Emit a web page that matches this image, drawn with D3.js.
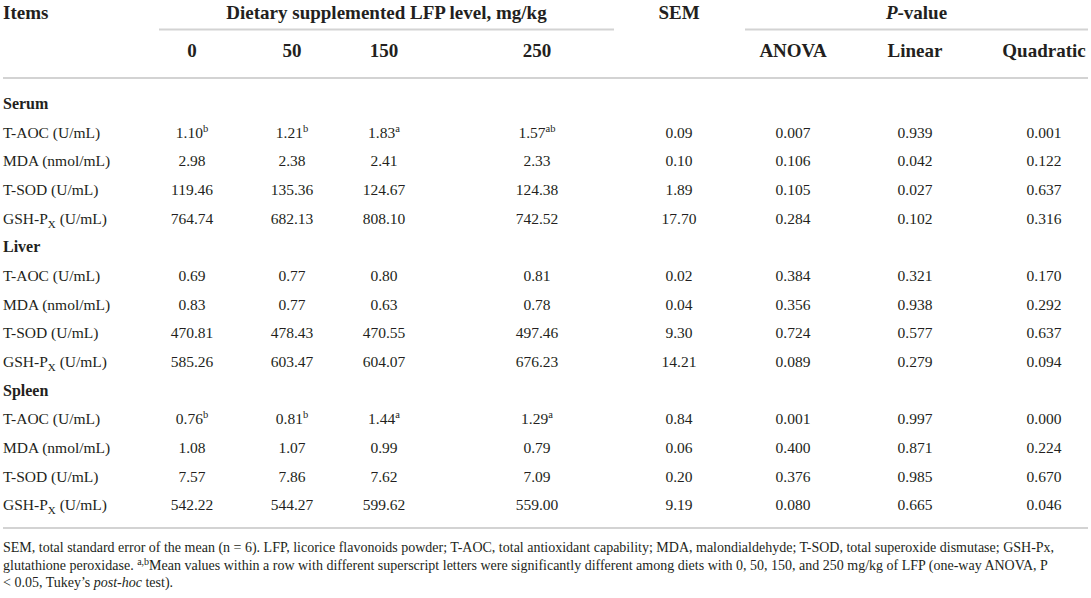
<!DOCTYPE html>
<html>
<head>
<meta charset="utf-8">
<script src="https://d3js.org/d3.v7.min.js"></script>
<style>
  body { margin: 0; padding: 0; background: #fff; }
  text { font-family: "Liberation Serif", "Times New Roman", serif; fill: #231f20; }
  .hd { font-weight: bold; font-size: 19px; }
  .grp { font-weight: bold; font-size: 16px; }
  .cell { font-size: 15.5px; }
  .note { font-size: 14px; }
</style>
</head>
<body>
<script>
// table data
var groups = ["Serum", "Liver", "Spleen"];
var items = ["T-AOC (U/mL)", "MDA (nmol/mL)", "T-SOD (U/mL)", "GSH-PX (U/mL)"];
var levels = ["0", "50", "150", "250"];
var pCols = ["ANOVA", "Linear", "Quadratic"];

var serumMeans = [[1.10, 1.21, 1.83, 1.57], [2.98, 2.38, 2.41, 2.33], [119.46, 135.36, 124.67, 124.38], [764.74, 682.13, 808.10, 742.52]];
var serumLetters = [["b", "b", "a", "ab"], [], [], []];
var serumSEM = [0.09, 0.10, 1.89, 17.70];
var serumP = [[0.007, 0.939, 0.001], [0.106, 0.042, 0.122], [0.105, 0.027, 0.637], [0.284, 0.102, 0.316]];

var liverMeans = [[0.69, 0.77, 0.80, 0.81], [0.83, 0.77, 0.63, 0.78], [470.81, 478.43, 470.55, 497.46], [585.26, 603.47, 604.07, 676.23]];
var liverLetters = [[], [], [], []];
var liverSEM = [0.02, 0.04, 9.30, 14.21];
var liverP = [[0.384, 0.321, 0.170], [0.356, 0.938, 0.292], [0.724, 0.577, 0.637], [0.089, 0.279, 0.094]];

var spleenMeans = [[0.76, 0.81, 1.44, 1.29], [1.08, 1.07, 0.99, 0.79], [7.57, 7.86, 7.62, 7.09], [542.22, 544.27, 599.62, 559.00]];
var spleenLetters = [["b", "b", "a", "a"], [], [], []];
var spleenSEM = [0.84, 0.06, 0.20, 9.19];
var spleenP = [[0.001, 0.997, 0.000], [0.400, 0.871, 0.224], [0.376, 0.985, 0.670], [0.080, 0.665, 0.046]];

var width = 1091, height = 598;
var f2 = d3.format(".2f"), f3 = d3.format(".3f");

var svg = d3.select("body").append("svg")
    .attr("width", width)
    .attr("height", height);

// column centres
var x = d3.scaleOrdinal()
    .domain(levels.concat(["SEM"], pCols))
    .range([192, 292, 384, 537, 679, 793, 915, 1044]);

// build the row list (group headings + item rows)
var blocks = [
  {means: serumMeans, letters: serumLetters, sem: serumSEM, p: serumP},
  {means: liverMeans, letters: liverLetters, sem: liverSEM, p: liverP},
  {means: spleenMeans, letters: spleenLetters, sem: spleenSEM, p: spleenP}
];
var rows = [];
groups.forEach(function(g, gi) {
  rows.push({type: "group", label: g});
  items.forEach(function(it, i) {
    var b = blocks[gi];
    rows.push({type: "item", label: it, means: b.means[i], letters: b.letters[i], sem: b.sem[i], p: b.p[i]});
  });
});

var y = d3.scalePoint()
    .domain(d3.range(rows.length))
    .range([109, 510.4]);

// rules
function rule(x1, x2, yy, w) {
  svg.append("line").attr("x1", x1).attr("x2", x2).attr("y1", yy).attr("y2", yy)
    .attr("stroke", "#d3d3d3").attr("stroke-width", w);
}
rule(159, 614, 29.5, 2);
rule(745, 1088, 29.5, 2);
rule(3, 1088, 78, 2.2);
rule(3, 1088, 528, 2.2);

// header
svg.append("text").attr("class", "hd").attr("x", 3).attr("y", 19).text("Items");
svg.append("text").attr("class", "hd").attr("x", (159 + 614) / 2).attr("y", 19)
  .attr("text-anchor", "middle").text("Dietary supplemented LFP level, mg/kg");
svg.append("text").attr("class", "hd").attr("x", x("SEM")).attr("y", 19)
  .attr("text-anchor", "middle").text("SEM");
var pv = svg.append("text").attr("class", "hd").attr("x", (745 + 1088) / 2).attr("y", 19)
  .attr("text-anchor", "middle");
pv.append("tspan").attr("font-style", "italic").text("P");
pv.append("tspan").text("-value");

svg.selectAll(".sub").data(levels.concat(pCols)).enter().append("text")
  .attr("class", "hd")
  .attr("x", function(d) { return x(d); })
  .attr("y", 56.5)
  .attr("text-anchor", "middle")
  .text(function(d) { return d; });

// body rows
var row = svg.selectAll(".row").data(rows).enter().append("g")
  .attr("class", "row")
  .attr("transform", function(d, i) { return "translate(0," + y(i) + ")"; });

row.filter(function(d) { return d.type === "group"; })
  .append("text").attr("class", "grp").attr("x", 3).text(function(d) { return d.label; });

var item = row.filter(function(d) { return d.type === "item"; });

item.append("text").attr("class", "cell").attr("x", 3)
  .each(function(d) {
    var t = d3.select(this);
    if (d.label.indexOf("GSH-PX") === 0) {
      t.append("tspan").text("GSH-P");
      t.append("tspan").attr("font-size", "11px").attr("dy", 4).text("X");
      t.append("tspan").attr("dy", -4).text(" (U/mL)");
    } else {
      t.text(d.label);
    }
  });

item.each(function(d) {
  var g = d3.select(this);
  var cells = d.means.map(function(v, k) { return {col: levels[k], txt: f2(v), sup: d.letters[k] || ""}; });
  cells.push({col: "SEM", txt: f2(d.sem), sup: ""});
  d.p.forEach(function(v, k) { cells.push({col: pCols[k], txt: f3(v), sup: ""}); });
  g.selectAll(".v").data(cells).enter().append("text")
    .attr("class", "cell")
    .attr("x", function(c) { return x(c.col); })
    .attr("text-anchor", "middle")
    .each(function(c) {
      var t = d3.select(this);
      t.append("tspan").text(c.txt);
      if (c.sup) t.append("tspan").attr("font-size", "10.5px").attr("dy", -6).text(c.sup);
    });
});

// footnote
var n1 = svg.append("text").attr("class", "note").attr("x", 3).attr("y", 552)
  .text("SEM, total standard error of the mean (n = 6). LFP, licorice flavonoids powder; T-AOC, total antioxidant capability; MDA, malondialdehyde; T-SOD, total superoxide dismutase; GSH-Px,");
var n2 = svg.append("text").attr("class", "note").attr("x", 3).attr("y", 569.5);
n2.append("tspan").text("glutathione peroxidase. ");
n2.append("tspan").attr("font-size", "10px").attr("dy", -5).text("a,b");
n2.append("tspan").attr("dy", 5).text("Mean values within a row with different superscript letters were significantly different among diets with 0, 50, 150, and 250 mg/kg of LFP (one-way ANOVA, P");
var n3 = svg.append("text").attr("class", "note").attr("x", 3).attr("y", 587);
n3.append("tspan").text("< 0.05, Tukey\u2019s ");
n3.append("tspan").attr("font-style", "italic").text("post-hoc");
n3.append("tspan").text(" test).");
</script>
</body>
</html>
